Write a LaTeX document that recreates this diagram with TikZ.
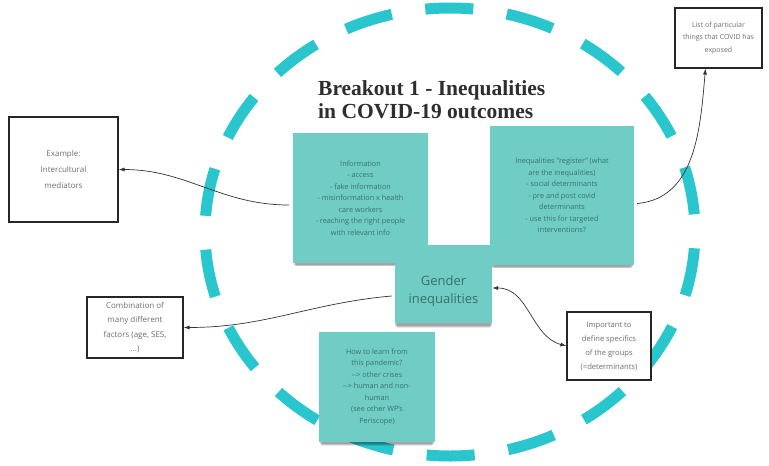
\documentclass[tikz,border=0pt]{standalone}
\usepackage{fontspec}
\setmainfont{Open Sans}
\newfontfamily\titlefont{Liberation Serif}
\usetikzlibrary{arrows.meta,shadows}
\definecolor{ringcyan}{HTML}{2AC6CE}
\definecolor{stickyfill}{HTML}{6FCDC5}
\definecolor{stickytext}{HTML}{3B6F6C}
\definecolor{boxtext}{HTML}{6E6E6E}
\definecolor{titlecol}{HTML}{2E2E2E}
\tikzset{
  sticky/.style={fill=stickyfill, draw=none, inner sep=0pt, align=center,
    text=stickytext, font=\fontsize{7.3}{11.5}\selectfont,
    drop shadow={shadow xshift=0pt, shadow yshift=-7pt, shadow scale=0.95, opacity=.10, fill=black},
    drop shadow={shadow xshift=0pt, shadow yshift=-5pt, shadow scale=0.97, opacity=.14, fill=black},
    drop shadow={shadow xshift=0pt, shadow yshift=-3pt, shadow scale=0.99, opacity=.16, fill=black}},
  notebox/.style={draw=black!85, line width=1.1pt, fill=white, inner sep=0pt,
    align=center, text=boxtext, font=\fontsize{8}{14.5}\selectfont},
  link/.style={draw=black!80, line width=0.7pt, -{Latex[length=6pt,width=4pt]}},
  ring/.style={draw=ringcyan, line width=11pt, dash pattern=on 48pt off 33.9pt, dash phase=65.6pt}
}
\begin{document}
\begin{tikzpicture}[x=1pt,y=-1pt]
  \fill[white] (0,0) rectangle (769,466);
  \useasboundingbox (0,0) rectangle (769,466);

  % dashed ring
  \draw[ring] (450,232) ellipse [x radius=245, y radius=224];

  % title
  \node[anchor=north west, align=left, text=titlecol,
        font=\titlefont\bfseries\fontsize{21.5}{23}\selectfont, inner sep=0pt]
    (title) at (318,80) {Breakout 1 - Inequalities\\in COVID-19 outcomes};

  % stickies
  \node[sticky, minimum width=135pt, minimum height=130pt] (info) at (360.5,198)
    {Information\\- access\\- fake information\\- misinformation x health\\care workers\\- reaching the right people\\with relevant info};
  \node[sticky, minimum width=144pt, minimum height=139pt] (register) at (562,195.5)
    {Inequalities "register" (what\\are the inequalities)\\- social determinants\\- pre and post covid\\determinants\\- use this for targeted\\interventions?};
  \node[sticky, minimum width=97pt, minimum height=78pt] (gender) at (443.5,284) {};
  \node[text=stickytext, align=center, font=\fontsize{13}{18}\selectfont, inner sep=0pt]
    (gendertext) at (443.5,291) {Gender\\inequalities};
  \node[sticky, minimum width=116pt, minimum height=110pt] (learn) at (377,387)
    {How to learn from\\this pandemic?\\-{}-> other crises\\-{}-> human and non-\\human\\(see other WP's\\Periscope)};

  % note boxes
  \node[notebox, minimum width=109pt, minimum height=105pt, font=\fontsize{8}{16}\selectfont] (example) at (63.5,169.5)
    {Example:\\Intercultural\\mediators};
  \node[notebox, minimum width=96pt, minimum height=61pt] (combo) at (135,327.5)
    {Combination of\\many different\\factors (age, SES,\\...)};
  \node[notebox, minimum width=84pt, minimum height=68pt, font=\fontsize{7.6}{14}\selectfont] (important) at (609,346)
    {Important to\\define specifics\\of the groups\\(=determinants)};
  \node[notebox, minimum width=87pt, minimum height=60pt, font=\fontsize{7}{12.5}\selectfont] (list) at (718.5,38)
    {List of particular\\things that COVID has\\exposed};

  % connectors
  \draw[link] ([xshift=-4pt,yshift=-7pt]info.west) to[out=180,in=0] (example.east);
  \draw[link] ([xshift=3pt,yshift=-8pt]register.east) to[out=5,in=-95] ([xshift=-13pt]list.south);
  \draw[link] ([xshift=-3pt,yshift=-12pt]gender.west) to[out=185,in=0] (combo.east);
  \draw[link, {Latex[length=6pt,width=4pt]}-{Latex[length=6pt,width=4pt]}]
    ([yshift=-4pt]gender.east) to[out=0,in=165] (important.west);
\end{tikzpicture}
\end{document}
